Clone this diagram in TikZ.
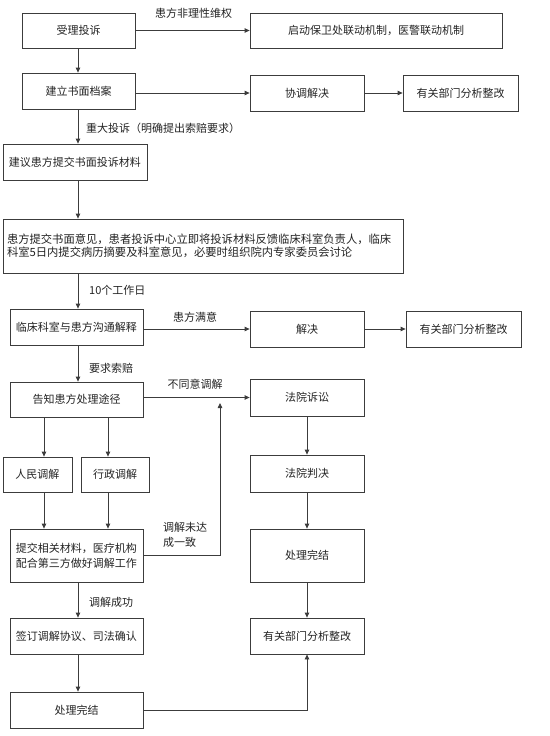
\documentclass[tikz,border=0pt]{standalone}
\usepackage{fontspec}
\setmainfont{Noto Sans CJK SC}
\usetikzlibrary{arrows.meta}
\definecolor{lc}{RGB}{60,60,60}
\definecolor{tc}{RGB}{35,35,35}
\begin{document}
\begin{tikzpicture}[x=1pt,y=-1pt,
  box/.style={draw=lc, line width=0.8pt, inner sep=0pt, font=\fontsize{11}{15}\selectfont, text=tc},
  arr/.style={draw=lc, line width=0.8pt, -{Triangle[length=5pt,width=4.5pt]}},
  ln/.style={draw=lc, line width=0.8pt},
  lbl/.style={font=\fontsize{11}{15}\selectfont, text=tc, inner sep=0pt}]
\useasboundingbox (0,0) rectangle (549,736);
% column coordinates
\coordinate (col) at (78,0);
\coordinate (colA) at (44,0);
\coordinate (colB) at (108,0);
\coordinate (colR) at (307,0);
% boxes
\node[box, minimum width=113pt, minimum height=35pt] (a) at (78.5,30.5) {受理投诉};
\node[box, minimum width=252pt, minimum height=35pt] (b) at (376,30.5) {启动保卫处联动机制，医警联动机制};
\node[box, minimum width=113pt, minimum height=36pt] (c) at (78.5,91) {建立书面档案};
\node[box, minimum width=114pt, minimum height=36pt] (d) at (307,93) {协调解决};
\node[box, minimum width=115pt, minimum height=36pt] (e) at (460.5,93) {有关部门分析整改};
\node[box, minimum width=144pt, minimum height=36pt] (f) at (75,162) {建议患方提交书面投诉材料};
\node[box, minimum width=400pt, minimum height=54pt, text width=392pt, align=left, font=\fontsize{11.3}{13}\selectfont] (g) at (203,246) {患方提交书面意见，患者投诉中心立即将投诉材料反馈临床科室负责人，临床\\科室5日内提交病历摘要及科室意见，必要时组织院内专家委员会讨论};
\node[box, minimum width=133pt, minimum height=36pt] (h) at (76.5,327) {临床科室与患方沟通解释};
\node[box, minimum width=114pt, minimum height=36pt] (i) at (307,329) {解决};
\node[box, minimum width=115pt, minimum height=36pt] (j) at (463.5,329) {有关部门分析整改};
\node[box, minimum width=133pt, minimum height=35pt] (k) at (76.5,399.5) {告知患方处理途径};
\node[box, minimum width=114pt, minimum height=37pt] (l) at (307,397.5) {法院诉讼};
\node[box, minimum width=69pt, minimum height=35pt] (m) at (37.5,474.5) {人民调解};
\node[box, minimum width=68pt, minimum height=35pt] (n) at (115,474.5) {行政调解};
\node[box, minimum width=133pt, minimum height=53pt, align=center] (o) at (76.5,555.5) {提交相关材料，医疗机构\\配合第三方做好调解工作};
\node[box, minimum width=114pt, minimum height=37pt] (p) at (307,473.5) {法院判决};
\node[box, minimum width=114pt, minimum height=53pt] (q) at (307,555.5) {处理完结};
\node[box, minimum width=133pt, minimum height=36pt] (r) at (76.5,636) {签订调解协议、司法确认};
\node[box, minimum width=114pt, minimum height=36pt] (s) at (307,636) {有关部门分析整改};
\node[box, minimum width=133pt, minimum height=36pt] (t) at (76.5,710) {处理完结};
% labels
\node[lbl] (l1) at (193.5,13) {患方非理性维权};
\node[lbl, anchor=west] (l2) at (86,128) {重大投诉（明确提出索赔要求）};
\node[lbl, anchor=west] (l3) at (89,290) {10个工作日};
\node[lbl] (l4) at (195,317) {患方满意};
\node[lbl, anchor=west] (l5) at (89,368) {要求索赔};
\node[lbl] (l6) at (195,384) {不同意调解};
\node[lbl, anchor=west, align=left] (l7) at (163,534.5) {调解未达\\成一致};
\node[lbl, anchor=west] (l8) at (89,602) {调解成功};
% connectors
\draw[arr] (a.east) -- (b.west);
\draw[arr] (col |- a.south) -- (col |- c.north);
\draw[arr] (c.east |- d.west) -- (d.west);
\draw[arr] (d.east) -- (e.west);
\draw[arr] (col |- c.south) -- (col |- f.north);
\draw[arr] (col |- f.south) -- (col |- g.north);
\draw[arr] (col |- g.south) -- (col |- h.north);
\draw[arr] (h.east |- i.west) -- (i.west);
\draw[arr] (i.east) -- (j.west);
\draw[arr] (col |- h.south) -- (col |- k.north);
\draw[arr] (k.east |- l.west) -- (l.west);
\draw[arr] (colA |- k.south) -- (colA |- m.north);
\draw[arr] (colB |- k.south) -- (colB |- n.north);
\draw[arr] (colA |- m.south) -- (colA |- o.north);
\draw[arr] (colB |- n.south) -- (colB |- o.north);
\coordinate (up) at (220,403);
\draw[arr] (o.east) -- (o.east -| up) -- (up);
\draw[arr] (l.south) -- (p.north);
\draw[arr] (p.south) -- (q.north);
\draw[arr] (q.south) -- (s.north);
\draw[arr] (col |- o.south) -- (col |- r.north);
\draw[arr] (col |- r.south) -- (col |- t.north);
\draw[arr] (t.east) -- (s.south |- t.east) -- (s.south);
\end{tikzpicture}
\end{document}
